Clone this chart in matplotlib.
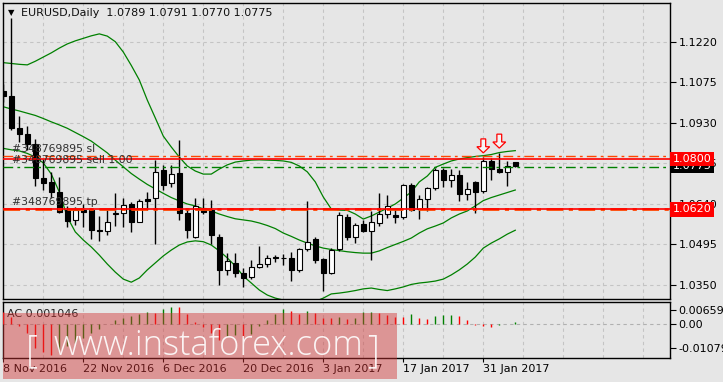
import matplotlib
matplotlib.use("Agg")
import matplotlib.pyplot as plt
from matplotlib.patches import Rectangle, FancyArrow
import numpy as np

# EURUSD daily, bar 0 = 8 Nov 2016 ... bar 64 = 6 Feb 2017
opens = [1.1045, 1.1025, 1.0911, 1.0888, 1.0853, 1.0731, 1.0717, 1.0683, 1.0617, 1.0582,
         1.0617, 1.0617, 1.0546, 1.0541, 1.0602, 1.0606, 1.0638, 1.0576, 1.0657, 1.0659,
         1.0761, 1.0713, 1.0749, 1.0606, 1.0522, 1.0623, 1.0617, 1.0522, 1.0403, 1.0427,
         1.0391, 1.0379, 1.0412, 1.0423, 1.0448, 1.0447, 1.0444, 1.0403, 1.0477, 1.0513,
         1.0442, 1.0393, 1.0477, 1.0594, 1.0520, 1.0566, 1.0543, 1.0572, 1.0603, 1.0600,
         1.0591, 1.0707, 1.0620, 1.0656, 1.0695, 1.0761, 1.0725, 1.0743, 1.0674, 1.0716,
         1.0687, 1.0794, 1.0763, 1.0752, 1.0789]
highs = [1.1070, 1.1304, 1.0955, 1.0919, 1.0870, 1.0800, 1.0755, 1.0737, 1.0630, 1.0629,
         1.0640, 1.0625, 1.0595, 1.0617, 1.0677, 1.0659, 1.0645, 1.0656, 1.0683, 1.0796,
         1.0779, 1.0779, 1.0868, 1.0623, 1.0659, 1.0659, 1.0653, 1.0530, 1.0462, 1.0462,
         1.0409, 1.0437, 1.0488, 1.0456, 1.0456, 1.0460, 1.0468, 1.0480, 1.0650, 1.0522,
         1.0447, 1.0482, 1.0610, 1.0602, 1.0572, 1.0582, 1.0615, 1.0677, 1.0671, 1.0623,
         1.0712, 1.0714, 1.0671, 1.0701, 1.0767, 1.0767, 1.0765, 1.0761, 1.0719, 1.0722,
         1.0806, 1.0802, 1.0823, 1.0794, 1.0791]
lows = [1.1005, 1.0904, 1.0862, 1.0832, 1.0705, 1.0690, 1.0659, 1.0605, 1.0558, 1.0564,
        1.0558, 1.0512, 1.0505, 1.0528, 1.0560, 1.0558, 1.0540, 1.0574, 1.0617, 1.0495,
        1.0690, 1.0701, 1.0582, 1.0516, 1.0516, 1.0603, 1.0495, 1.0350, 1.0385, 1.0379,
        1.0340, 1.0371, 1.0409, 1.0414, 1.0430, 1.0421, 1.0362, 1.0397, 1.0470, 1.0427,
        1.0327, 1.0388, 1.0472, 1.0510, 1.0500, 1.0538, 1.0440, 1.0560, 1.0588, 1.0570,
        1.0587, 1.0614, 1.0584, 1.0615, 1.0690, 1.0701, 1.0700, 1.0650, 1.0652, 1.0608,
        1.0677, 1.0725, 1.0749, 1.0703, 1.0770]
closes = [1.1025, 1.0910, 1.0888, 1.0853, 1.0731, 1.0713, 1.0683, 1.0612, 1.0578, 1.0617,
          1.0611, 1.0546, 1.0541, 1.0576, 1.0606, 1.0635, 1.0576, 1.0650, 1.0651, 1.0755,
          1.0707, 1.0745, 1.0606, 1.0546, 1.0630, 1.0612, 1.0528, 1.0403, 1.0436, 1.0391,
          1.0373, 1.0414, 1.0423, 1.0447, 1.0445, 1.0445, 1.0403, 1.0477, 1.0504, 1.0440,
          1.0393, 1.0474, 1.0600, 1.0522, 1.0564, 1.0543, 1.0576, 1.0603, 1.0632, 1.0594,
          1.0707, 1.0617, 1.0656, 1.0695, 1.0761, 1.0725, 1.0743, 1.0674, 1.0691, 1.0683,
          1.0794, 1.0763, 1.0752, 1.0775, 1.0775]

# Bollinger bands as drawn on the chart
bb_upper = [1.1145, 1.1142, 1.1139, 1.1137, 1.1150, 1.1165, 1.1180, 1.1197, 1.1212, 1.1223,
            1.1232, 1.1241, 1.1248, 1.1240, 1.1220, 1.1183, 1.1135, 1.1083, 1.1011, 1.0947,
            1.0882, 1.0843, 1.0807, 1.0775, 1.0757, 1.0746, 1.0746, 1.0764, 1.0779, 1.0789,
            1.0793, 1.0796, 1.0797, 1.0796, 1.0795, 1.0793, 1.0788, 1.0775, 1.0754, 1.0718,
            1.0664, 1.0621, 1.0617, 1.0616, 1.0603, 1.0585, 1.0596, 1.0610, 1.0624, 1.0639,
            1.0660, 1.0682, 1.0718, 1.0739, 1.0770, 1.0782, 1.0793, 1.0800, 1.0805, 1.0809,
            1.0812, 1.0816, 1.0823, 1.0827, 1.0830]
bb_middle = [1.0987, 1.0979, 1.0972, 1.0964, 1.0956, 1.0945, 1.0933, 1.0922, 1.0910, 1.0895,
             1.0880, 1.0864, 1.0843, 1.0822, 1.0796, 1.0772, 1.0748, 1.0728, 1.0709, 1.0693,
             1.0677, 1.0662, 1.0650, 1.0639, 1.0632, 1.0621, 1.0614, 1.0603, 1.0594, 1.0586,
             1.0582, 1.0578, 1.0571, 1.0562, 1.0551, 1.0535, 1.0523, 1.0510, 1.0499, 1.0489,
             1.0481, 1.0476, 1.0472, 1.0468, 1.0465, 1.0463, 1.0463, 1.0471, 1.0483, 1.0494,
             1.0505, 1.0517, 1.0535, 1.0550, 1.0560, 1.0571, 1.0589, 1.0603, 1.0614, 1.0632,
             1.0651, 1.0662, 1.0671, 1.0680, 1.0689]
bb_lower = [1.0838, 1.0833, 1.0829, 1.0820, 1.0807, 1.0786, 1.0746, 1.0682, 1.0592, 1.0539,
            1.0510, 1.0485, 1.0456, 1.0424, 1.0395, 1.0370, 1.0359, 1.0374, 1.0403, 1.0428,
            1.0453, 1.0474, 1.0492, 1.0503, 1.0507, 1.0504, 1.0492, 1.0471, 1.0446, 1.0417,
            1.0381, 1.0356, 1.0331, 1.0313, 1.0302, 1.0295, 1.0288, 1.0284, 1.0284, 1.0290,
            1.0302, 1.0317, 1.0320, 1.0324, 1.0329, 1.0335, 1.0338, 1.0333, 1.0329, 1.0335,
            1.0342, 1.0351, 1.0356, 1.0359, 1.0363, 1.0370, 1.0385, 1.0403, 1.0424, 1.0449,
            1.0481, 1.0499, 1.0514, 1.0531, 1.0545]

# Accelerator oscillator
ac_prev = 0.0068
ac_values = [0.0057, 0.0035, -0.0009, -0.0041, -0.0108, -0.0126, -0.0138, -0.0116, -0.0099, -0.0086,
             -0.0063, -0.0041, -0.0023, 0.0003, 0.0019, 0.0027, 0.0039, 0.0046, 0.0057, 0.0050,
             0.0071, 0.0080, 0.0078, 0.0045, 0.0010, -0.0010, -0.0041, -0.0071, -0.0054, -0.0050,
             -0.0057, -0.0045, -0.0006, 0.0019, 0.0046, 0.0069, 0.0060, 0.0046, 0.0060, 0.0050,
             0.0030, 0.0029, 0.0035, 0.0024, 0.0030, 0.0054, 0.0055, 0.0050, 0.0042, 0.0035,
             0.0031, 0.0046, 0.0030, 0.0024, 0.0039, 0.0042, 0.0043, 0.0039, 0.0019, -0.0001,
             -0.0008, -0.0014, -0.0002, 0.0001, 0.001046]

date_bars = [0, 10, 20, 30, 40, 50, 60]
date_labels = ["8 Nov 2016", "22 Nov 2016", "6 Dec 2016", "20 Dec 2016",
               "3 Jan 2017", "17 Jan 2017", "31 Jan 2017"]
price_ticks = [1.0350, 1.0495, 1.0640, 1.0785, 1.0930, 1.1075, 1.1220]
ac_ticks = [-0.01079, 0.0, 0.006599]
ac_tick_labels = ["-0.01079", "0.00", "0.006599"]

order_id = "#348769895"
sl_price = 1.0810
open_price = 1.0771
tp_price = 1.0620
levels = [1.0800, 1.0620]
bid = 1.0775
signal_bars = [60, 62]

BG = "#e6e6e6"
GRID = "#c4c4c4"
GREEN = "#008000"
ORANGE = "#ff4500"

plt.rcParams["font.family"] = ["DejaVu Sans"]
plt.rcParams["font.size"] = 8

fig = plt.figure(figsize=(7.23, 3.82), dpi=100, facecolor=BG)
ax = fig.add_axes([0.00373, 0.21728, 0.92296, 0.77565], facecolor=BG)
ax2 = fig.add_axes([0.00373, 0.06204, 0.92296, 0.14817], facecolor=BG)

n = len(closes)
x = np.arange(n)
xlim = (-0.075, 83.34)

# Panel 1 — candles + bands
ax.plot(x, bb_upper, color=GREEN, lw=0.9, zorder=2)
ax.plot(x, bb_middle, color=GREEN, lw=0.9, zorder=2)
ax.plot(x, bb_lower, color=GREEN, lw=0.9, zorder=2)

o = np.array(opens)
c = np.array(closes)
ax.vlines(x, lows, highs, color="black", lw=1, zorder=3)
body_lo = np.minimum(o, c)
body_h = np.abs(c - o)
body_col = np.where(c >= o, "white", "black")
ax.bar(x, body_h, bottom=body_lo, width=0.62, color=body_col,
       edgecolor="black", linewidth=0.8, zorder=4)

# trade / level lines
ax.axhline(tp_price, color=ORANGE, lw=2.0, ls=(0, (6, 2, 1.5, 2)), zorder=5)
for lv in levels:
    ax.axhline(lv, color="red", lw=1.2, zorder=6)
ax.axhline(sl_price, color=ORANGE, lw=1.0, ls=(0, (7, 3, 2, 3)), zorder=5)
ax.axhline(open_price, color=GREEN, lw=1.0, ls=(0, (7, 3, 2, 3)), zorder=5)

for txt, price in [(f"{order_id} sl", sl_price), (f"{order_id} sell 1.00", open_price),
                   (f"{order_id} tp", tp_price)]:
    ax.annotate(txt, xy=(0.0135, price), xycoords=("axes fraction", "data"),
                xytext=(0, 1.5), textcoords="offset points", va="bottom", ha="left",
                color="#303030", fontsize=7.8, zorder=7)

# arrows above the two tops
gap, length = 0.0016, 0.0050
for i in signal_bars:
    tip = highs[i] + gap
    ax.add_patch(FancyArrow(i, tip + length, 0, -length, width=0.6, head_width=1.6,
                            head_length=0.0022, length_includes_head=True,
                            facecolor="#f4f4f4", edgecolor="red", lw=0.9, zorder=8))

ax.set_xlim(*xlim)
ax.set_ylim(1.02988, 1.13596)
ax.set_xticks(np.arange(0, 84, 5))
ax.tick_params(axis="x", length=0, labelbottom=False)
ax.yaxis.tick_right()
ax.set_yticks(price_ticks)
ax.set_yticklabels([f"{t:.4f}" for t in price_ticks])
ax.tick_params(axis="y", length=4, width=0.8, pad=2, colors="black")
ax.grid(True, color=GRID, ls=(0, (3, 3)), lw=0.8)
ax.set_axisbelow(True)

# price boxes on the right axis
def price_box(price, text, fc):
    ax.annotate(text, xy=(1.004, price), xycoords=("axes fraction", "data"),
                va="center", ha="left", color="white", fontsize=8, annotation_clip=False,
                bbox=dict(boxstyle="square,pad=0.22", fc=fc, ec="none"), zorder=20)

price_box(bid, f"{bid:.4f}", "black")
for lv in levels:
    price_box(lv, f"{lv:.4f}", "red")

# Panel 2 — AC
ac = np.array(ac_values)
prev = np.concatenate([[ac_prev], ac[:-1]])
ac_col = np.where(ac > prev, GREEN, "red")
ax2.vlines(x, 0, ac, colors=ac_col, lw=1.0, zorder=3)
ax2.axhline(0, color="#b0b0b0", ls=(0, (3, 3)), lw=0.8, zorder=1)
ax2.set_xlim(*xlim)
ax2.set_ylim(-0.0153, 0.01017)
ax2.set_xticks(date_bars)
ax2.set_xticklabels(date_labels)
for lab in ax2.get_xticklabels():
    lab.set_ha("left")
ax2.set_xticks(np.arange(0, 84, 5), minor=True)
ax2.tick_params(axis="x", which="major", length=3, width=0.8, pad=1)
ax2.tick_params(axis="x", which="minor", length=0)
ax2.grid(True, axis="x", which="both", color=GRID, ls=(0, (3, 3)), lw=0.8)
ax2.set_axisbelow(True)
ax2.yaxis.tick_right()
ax2.set_yticks(ac_ticks)
ax2.set_yticklabels(ac_tick_labels)
ax2.tick_params(axis="y", length=4, width=0.8, pad=2)
ax2.text(0.007, 0.78, f"AC {ac_values[-1]:.6f}", transform=ax2.transAxes,
         va="center", ha="left", color="#202020", fontsize=8)

for a in (ax, ax2):
    for sp in a.spines.values():
        sp.set_color("black")
        sp.set_linewidth(1.0)

# header
fig.text(11 / 723, 1 - 12.5 / 382, "\u25bc", fontsize=6, ha="center", va="center")
fig.text(21 / 723, 1 - 13 / 382,
         f"EURUSD,Daily  {opens[-1]:.4f} {highs[-1]:.4f} {lows[-1]:.4f} {closes[-1]:.4f}",
         ha="left", va="center", fontsize=8, color="#101010")

# watermark
fig.add_artist(Rectangle((2.7 / 723, 1 - 379.3 / 382), 394 / 723, 66.6 / 382,
                         transform=fig.transFigure, facecolor=(210 / 255, 52 / 255, 52 / 255),
                         edgecolor="none", alpha=0.45, zorder=30))
wm = dict(color="white", alpha=0.9, family="Open Sans", weight="light",
          ha="left", va="baseline", zorder=31)
fig.text(53 / 723, 1 - 355 / 382, "www.instaforex.com", fontsize=24.8, **wm)
fig.text(26 / 723, 1 - 362 / 382, "[", fontsize=27, **wm)
fig.text(367 / 723, 1 - 362 / 382, "]", fontsize=27, **wm)

fig.savefig("out.png", dpi=100, facecolor=BG)
